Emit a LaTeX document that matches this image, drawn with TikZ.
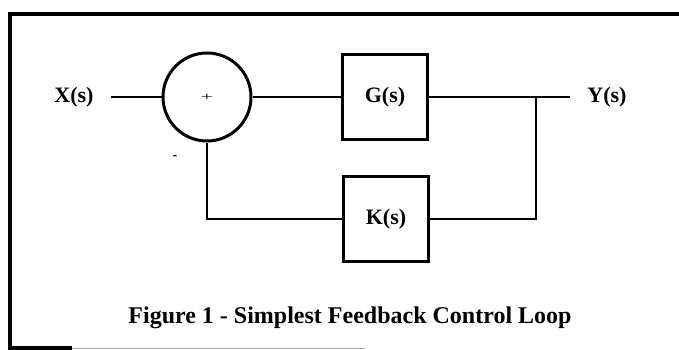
\documentclass[tikz,border=0pt]{standalone}
\usepackage{fontspec}
\setmainfont{Liberation Serif}
\begin{document}
\begin{tikzpicture}[x=1pt, y=-1pt]
    % Define styles
    \tikzset{
        block/.style={rectangle, draw, line width=2.8pt, minimum width=85pt, minimum height=85pt, font=\fontsize{22}{22}\selectfont\bfseries, inner sep=0pt},
        sumnode/.style={circle, draw, line width=3pt, minimum size=88pt, inner sep=0pt, font=\fontsize{16}{16}\selectfont},
        signal/.style={font=\fontsize{22}{22}\selectfont\bfseries, inner xsep=17.5pt, inner ysep=0pt},
        wire/.style={line width=2.6pt},
        frame/.style={line width=4.5pt},
    }
    \useasboundingbox (0,0) rectangle (679,350);

    % Frame
    \draw[frame] (679,14) -- (10,14) -- (10,348) -- (72,348);
    \draw[line width=1.5pt, black!35] (72,348.5) -- (365,348.5);

    % Blocks
    \node[sumnode] (sum) at (207,97) {\scalebox{1.4}[0.7]{+}};
    \node[block] (G) at (385,97) {G(s)};
    \node[block] (K) at (386,219) {K(s)};

    % Labels
    \node[signal] (X) at (74,97) {X(s)};
    \node[signal] (Y) at (607,97) {Y(s)};
    \node[font=\fontsize{14}{14}\selectfont\bfseries] (minus) at (175,158) {-};
    \node[font=\fontsize{24}{24}\selectfont\bfseries, anchor=base] (caption) at (350,323) {Figure 1 - Simplest Feedback Control Loop};

    % Connections
    \coordinate (split) at (536,97);
    \draw[wire] (X.east) -- (sum.west);
    \draw[wire] (sum.east) -- (G.west);
    \draw[wire] (G.east) -- (Y.west);
    \draw[wire] (split) |- (K.east);
    \draw[wire] (K.west) -| (sum.south);
\end{tikzpicture}
\end{document}
